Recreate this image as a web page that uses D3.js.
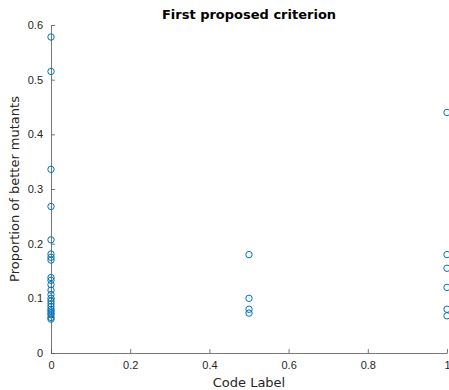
<!DOCTYPE html>
<html>
<head>
<meta charset="utf-8">
<script src="https://cdn.jsdelivr.net/npm/d3@7"></script>
<style>
  body { margin: 0; background: #fff; }
  svg { font-family: "DejaVu Sans", sans-serif; }
</style>
</head>
<body>
<div id="chart"></div>
<script>
// ---- Data: proportion of better mutants per code label
const codeLabelsA = [0, 0, 0, 0, 0, 0, 0, 0, 0, 0, 0, 0, 0, 0, 0, 0, 0, 0, 0, 0, 0, 0, 0];
const proportionsA = [0.578, 0.515, 0.336, 0.268, 0.207, 0.181, 0.175, 0.17, 0.138, 0.133,
  0.125, 0.115, 0.107, 0.1, 0.095, 0.09, 0.085, 0.08, 0.077, 0.073, 0.07, 0.065, 0.062];
const codeLabelsB = [0.5, 0.5, 0.5, 0.5];
const proportionsB = [0.18, 0.1, 0.08, 0.073];
const codeLabelsC = [1, 1, 1, 1, 1, 1];
const proportionsC = [0.44, 0.18, 0.155, 0.12, 0.08, 0.068];

const xTicks = [0, 0.2, 0.4, 0.6, 0.8, 1];
const yTicks = [0, 0.1, 0.2, 0.3, 0.4, 0.5, 0.6];

const points = [
  ...codeLabelsA.map((x, i) => ({ x, y: proportionsA[i] })),
  ...codeLabelsB.map((x, i) => ({ x, y: proportionsB[i] })),
  ...codeLabelsC.map((x, i) => ({ x, y: proportionsC[i] }))
];

const width = 449, height = 390;
const margin = { top: 25, right: 2, bottom: 37, left: 51 };
const innerW = width - margin.left - margin.right;
const innerH = height - margin.top - margin.bottom;

const svg = d3.select('#chart').append('svg')
  .attr('width', width).attr('height', height);

const x = d3.scaleLinear().domain([0, 1]).range([0, innerW]);
const y = d3.scaleLinear().domain([0, 0.6]).range([innerH, 0]);

const g = svg.append('g').attr('transform', `translate(${margin.left},${margin.top})`);

// ---- Axes (MATLAB style: inward ticks, grey lines)
const axisColor = '#262626';
const xAxis = g.append('g').attr('transform', `translate(0,${innerH})`)
  .call(d3.axisBottom(x).tickValues(xTicks).tickSizeInner(-4).tickSizeOuter(0).tickPadding(8)
    .tickFormat(d3.format('~g')));
const yAxis = g.append('g')
  .call(d3.axisLeft(y).tickValues(yTicks).tickSizeInner(-4).tickSizeOuter(0).tickPadding(8)
    .tickFormat(d3.format('~g')));

[xAxis, yAxis].forEach(a => {
  a.select('.domain').attr('stroke', '#555').attr('stroke-width', 0.8);
  a.selectAll('.tick line').attr('stroke', '#555').attr('stroke-width', 0.8);
  a.selectAll('.tick text').attr('fill', axisColor).style('font-size', '11px');
});

// ---- Markers
g.selectAll('.mark')
  .data(points)
  .join('circle')
  .attr('class', 'mark')
  .attr('cx', d => x(d.x))
  .attr('cy', d => y(d.y))
  .attr('r', 3.2)
  .attr('fill', 'none')
  .attr('stroke', '#0072BD')
  .attr('stroke-width', 1);

// ---- Title and labels
svg.append('text')
  .attr('x', margin.left + innerW / 2).attr('y', 19)
  .attr('text-anchor', 'middle')
  .style('font-size', '13px').style('font-weight', 'bold')
  .attr('fill', '#000')
  .text('First proposed criterion');

svg.append('text')
  .attr('x', margin.left + innerW / 2).attr('y', 387)
  .attr('text-anchor', 'middle')
  .style('font-size', '13px')
  .attr('fill', axisColor)
  .text('Code Label');

svg.append('text')
  .attr('transform', `translate(19,${margin.top + innerH / 2}) rotate(-90)`)
  .attr('text-anchor', 'middle')
  .style('font-size', '13px')
  .attr('fill', axisColor)
  .text('Proportion of better mutants');
</script>
</body>
</html>
